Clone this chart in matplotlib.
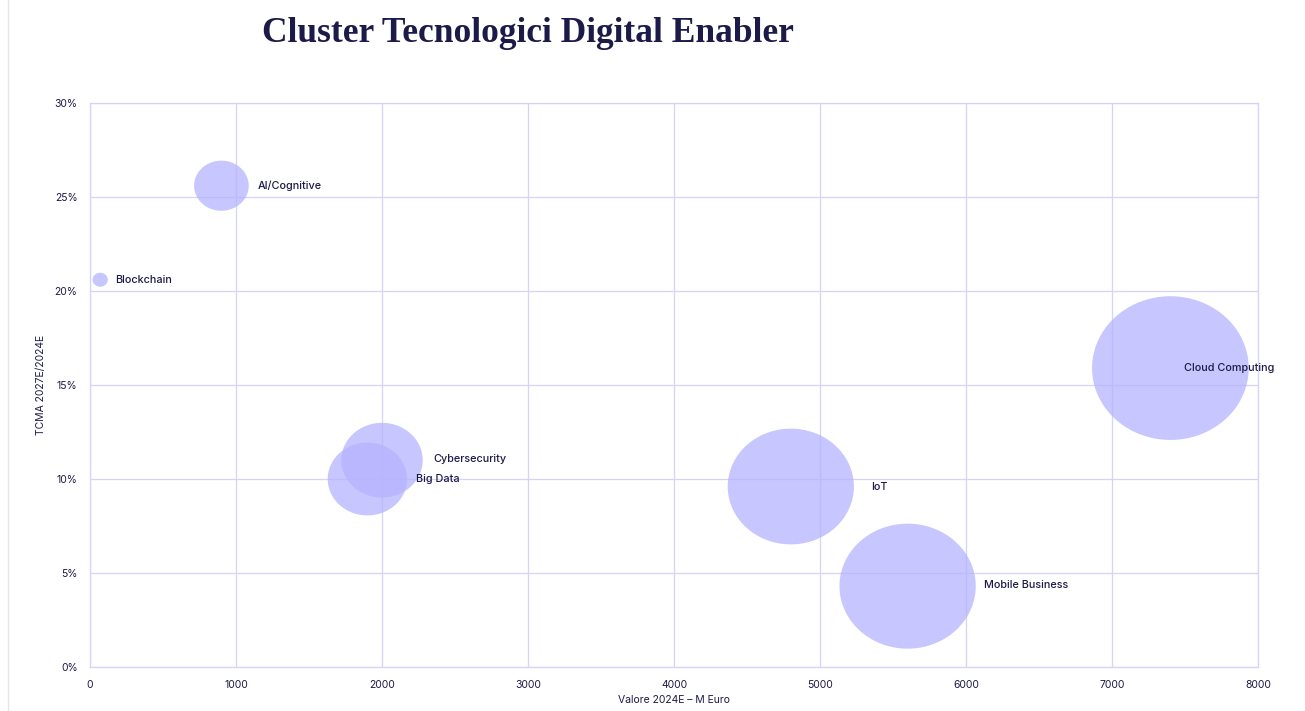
import numpy as np
import matplotlib
matplotlib.use("Agg")
import matplotlib.pyplot as plt
from matplotlib.path import Path

plt.rcParams['font.family'] = ['Inter', 'DejaVu Sans']

# data
names = ["AI/Cognitive", "Blockchain", "Cybersecurity", "Big Data",
         "IoT", "Mobile Business", "Cloud Computing"]
valore = [900, 70, 2000, 1900, 4800, 5600, 7400]          # M Euro 2024E
tcma = [25.6, 20.6, 11.0, 10.0, 9.6, 4.3, 15.9]           # % 2027E/2024E
bubble = valore                                            # area follows value

x_ticks = [0, 1000, 2000, 3000, 4000, 5000, 6000, 7000, 8000]
y_ticks = [0, 5, 10, 15, 20, 25, 30]

# label offsets from bubble centre, in points
label_dx = [26, 11, 37, 35, 58, 55, 10]
label_dy = [0, 0, 1, 0, 0, 1, 0]

navy = "#1c1a48"
grid_c = "#d6d4f6"
fill_c = "#b6b3ff"

# slightly wide ellipse marker (the source picture is stretched)
t = np.linspace(0, 2 * np.pi, 100)
ell = Path(np.column_stack([1.09 * np.cos(t), np.sin(t)]))

fig = plt.figure(figsize=(13.05, 7.11), dpi=100)
ax = fig.add_axes([90 / 1305, 44 / 711, 1168 / 1305, 564 / 711])

sizes = [1.72 * b for b in bubble]
ax.scatter(valore, tcma, s=sizes, marker=ell, color=fill_c, alpha=0.75,
           linewidths=0, zorder=3)

for name, x, y, dx, dy in zip(names, valore, tcma, label_dx, label_dy):
    ax.annotate(name, (x, y), xytext=(dx, dy), textcoords="offset points",
                ha="left", va="center", fontsize=7.8, color=navy,
                fontweight="medium", zorder=4)

ax.set_xlim(0, 8000)
ax.set_ylim(0, 30)
ax.set_xticks(x_ticks)
ax.set_yticks(y_ticks)
ax.set_yticklabels([f"{v}%" for v in y_ticks])
ax.grid(True, color=grid_c, linewidth=0.9, zorder=0)
ax.set_axisbelow(True)
for sp in ax.spines.values():
    sp.set_color(grid_c)
    sp.set_linewidth(0.9)
ax.tick_params(length=0, labelsize=7.5, labelcolor=navy, pad=9)

ax.set_xlabel("Valore 2024E – M Euro", fontsize=7.5, color=navy, labelpad=4)
ax.set_ylabel("TCMA 2027E/2024E", fontsize=7.5, color=navy, labelpad=6)

fig.text(262 / 1305, 1 - 33 / 711, "Cluster Tecnologici Digital Enabler",
         family="Liberation Serif", fontsize=25.5, color=navy,
         fontweight="bold", ha="left", va="center")

fig.add_artist(plt.Line2D([8 / 1305, 8 / 1305], [0, 1], color="#e6e6e6",
                          linewidth=1, transform=fig.transFigure))

fig.savefig("out.png", dpi=100, facecolor="white")
